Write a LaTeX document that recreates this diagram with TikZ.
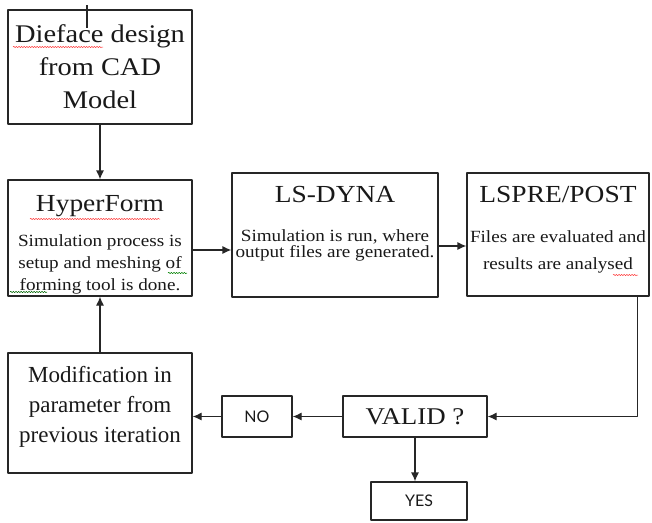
\documentclass[tikz,border=0pt]{standalone}
\usepackage{fontspec}
\setmainfont{Liberation Serif}
\newfontfamily\wideserif[FakeStretch=1.12]{Liberation Serif}
\newfontfamily\labelsans{Lato}
\usetikzlibrary{arrows.meta,decorations.pathmorphing}

\tikzset{
  stage/.style={draw=black!85, line width=1.2pt, align=center, inner sep=0pt, text=black!90},
  answer/.style={stage, font=\labelsans\fontsize{16}{16}\selectfont},
  flow/.style={->, line width=1.2pt, draw=black!85},
  spell/.style={draw=red!75, line width=0.5pt, decorate, decoration={snake, amplitude=0.7pt, segment length=2.6pt}},
}
\newcommand{\stagetitle}[1]{{\wideserif\fontsize{24.5}{26}\selectfont #1}}

\begin{document}
\begin{tikzpicture}[x=1pt, y=-1pt, line join=round, >={Latex[length=9pt,width=8pt]}]
  \useasboundingbox (0,0) rectangle (652,522);

  % Top row and the loop back
  \node[stage, minimum width=184pt, minimum height=114pt,
        font=\wideserif\fontsize{25.4}{33}\selectfont] (dieface) at (100,67)
        {Dieface design\\from CAD\\Model};
  \node[stage, minimum width=184pt, minimum height=116pt, text height=109pt,
        font=\wideserif\fontsize{17.1}{22}\selectfont] (hyperform) at (100,238)
        {\stagetitle{HyperForm}\\[13pt]Simulation process is\\setup and meshing of\\forming tool is done.};
  \node[stage, minimum width=206pt, minimum height=124pt, text depth=26pt,
        font=\wideserif\fontsize{17.1}{16}\selectfont] (lsdyna) at (335,235)
        {\stagetitle{LS-DYNA}\\[23pt]Simulation is run, where\\output files are generated.};
  \node[stage, minimum width=182pt, minimum height=123pt, text depth=13pt,
        font=\wideserif\fontsize{17.1}{27}\selectfont] (lspost) at (558,234.5)
        {\stagetitle{LSPRE/POST}\\[13pt]Files are evaluated and\\results are analysed};
  \node[stage, minimum width=184pt, minimum height=120pt, text depth=17pt,
        font=\fontsize{23}{30}\selectfont] (modify) at (100,413)
        {Modification in\\parameter from\\previous iteration};

  % Decision
  \node[stage, minimum width=144pt, minimum height=41pt,
        font=\wideserif\fontsize{24}{24}\selectfont] (valid) at (415,416.5) {VALID ?};
  \node[answer, minimum width=70pt, minimum height=41pt] (no) at (257,416.5) {NO};
  \node[answer, minimum width=96pt, minimum height=38pt] (yes) at (419,501) {YES};

  % Connectors
  \coordinate (tick) at (87,5);
  \draw[line width=1.2pt, draw=black!85] (tick) -- ++(0,23);
  \draw[flow] (dieface) -- (hyperform);
  \draw[flow] ([yshift=-12pt]hyperform.east) -- ([yshift=-12pt]hyperform.east -| lsdyna.west);
  \draw[flow] ([yshift=-11pt]lsdyna.east) -- ([yshift=-11pt]lsdyna.east -| lspost.west);
  \draw[flow] ([xshift=-12pt]lspost.south east) |- (valid);
  \draw[flow] (valid) -- (no);
  \draw[flow] (no) -- (no -| modify.east);
  \draw[flow] (valid) -- (valid |- yes.north);
  \draw[flow] (modify) -- (hyperform);

  % Spell-check marks
  \draw[spell] (13,47) -- (103,47);
  \draw[spell] (30,219) -- (160,219);
  \draw[spell, draw=green!50!black] (168,273) -- (187,273);
  \draw[spell, draw=green!40!black] (10,292) -- (47,292);
  \draw[spell] (613,275) -- (638,275);
\end{tikzpicture}
\end{document}
